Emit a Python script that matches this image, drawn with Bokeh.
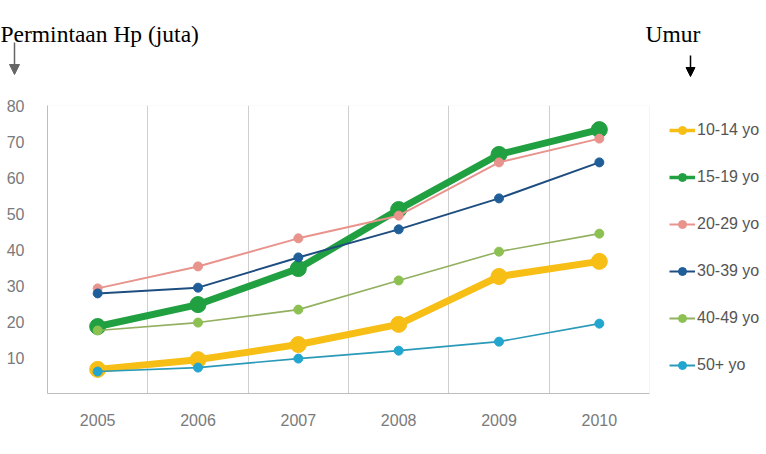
import numpy as np
from bokeh.plotting import figure
from bokeh.layouts import column
from bokeh.models import (FixedTicker, Legend, LegendItem, Label, Arrow, NormalHead, Range1d, BoxAnnotation)
from bokeh.embed import file_html
from bokeh.resources import INLINE

years = ["2005", "2006", "2007", "2008", "2009", "2010"]
groups = ["10-14 yo", "15-19 yo", "20-29 yo", "30-39 yo", "40-49 yo", "50+ yo"]
s_10_14 = [6.7, 9.4, 13.6, 19.2, 32.5, 36.7]
s_15_19 = [18.6, 24.7, 34.7, 51.1, 66.4, 73.3]
s_20_29 = [29.2, 35.3, 43.1, 49.4, 64.2, 70.8]
s_30_39 = [27.8, 29.4, 37.8, 45.6, 54.2, 64.2]
s_40_49 = [17.5, 19.7, 23.3, 31.4, 39.4, 44.4]
s_50p = [6.1, 7.2, 9.7, 11.9, 14.4, 19.4]
y_ticks = [10, 20, 30, 40, 50, 60, 70, 80]

series = [s_10_14, s_15_19, s_20_29, s_30_39, s_40_49, s_50p]
colors = ["#F7BE16", "#20A040", "#E8938C", "#1F5E98", "#8CC152", "#22A6CF"]
line_colors = ["#F7BE16", "#20A040", "#E8938C", "#1E4E80", "#93B060", "#2A9AB8"]
widths = [7, 7, 2, 2, 1.6, 1.6]
msizes = [16, 16, 9, 9, 9, 9]
leg_widths = [3.5, 3.5, 2, 2, 2, 2]
leg_msizes = [11, 11, 8, 8, 8, 8]

W = 766
HEAD_H = 90
MAIN_H = 364

# ---- header with the two captions and arrows ----
head = figure(width=W, height=HEAD_H, output_backend="svg", toolbar_location=None,
              x_range=Range1d(0, W), y_range=Range1d(HEAD_H, 0),
              x_axis_location=None, y_axis_location=None,
              min_border_left=0, min_border_right=0, min_border_top=0, min_border_bottom=0)
head.frame_align = False
head.grid.visible = False
head.outline_line_color = None
head.add_layout(Label(x=0, y=33, text="Permintaan Hp (juta)", text_font="Liberation Serif",
                      text_font_size="23.5px", text_color="black", text_baseline="alphabetic"))
head.add_layout(Label(x=645, y=33, text="Umur", text_font="Liberation Serif",
                      text_font_size="23.5px", text_color="black", text_baseline="alphabetic"))
head.add_layout(Arrow(x_start=14, y_start=42, x_end=14, y_end=74, line_color="#666666", line_width=1.5,
                      end=NormalHead(size=10, fill_color="#666666", line_color="#666666")))
head.add_layout(Arrow(x_start=690, y_start=55, x_end=690, y_end=76, line_color="black", line_width=1.5,
                      end=NormalHead(size=9, fill_color="black", line_color="black")))

# ---- main chart ----
n = len(years)
p = figure(width=W, height=MAIN_H, output_backend="svg", toolbar_location=None,
           x_range=Range1d(0, n * 719 / 602), y_range=Range1d(0, 80),
           min_border_left=47, min_border_right=0, min_border_top=15, min_border_bottom=61)
p.frame_align = False

xs = np.arange(n) + 0.5
items = []
for name, vals, c, lc, w, ms, lw, lms in zip(groups, series, colors, line_colors, widths, msizes,
                                              leg_widths, leg_msizes):
    p.line(xs, vals, line_color=lc, line_width=w, line_join="round")
    p.scatter(xs, vals, size=ms, fill_color=c, line_color=c)
    # hidden copies, styled like the reference legend keys
    g1 = p.line(xs, vals, line_color=lc, line_width=lw, visible=False)
    g2 = p.scatter(xs, vals, size=lms, fill_color=c, line_color=c, visible=False)
    items.append(LegendItem(label=name, renderers=[g1, g2]))

p.xaxis.ticker = FixedTicker(ticks=list(xs))
p.xaxis.major_label_overrides = {float(x): y for x, y in zip(xs, years)}
p.xaxis.bounds = (0, n)
p.yaxis.ticker = FixedTicker(ticks=y_ticks)
p.yaxis.bounds = (0, 80)
for ax in (p.xaxis[0], p.yaxis[0]):
    ax.major_tick_line_color = None
    ax.minor_tick_line_color = None
    ax.axis_line_color = "#b8b8b8"
    ax.major_label_text_color = "#7a7a7a"
    ax.major_label_text_font = "Liberation Sans"
p.xaxis.major_label_text_font_size = "16px"
p.yaxis.major_label_text_font_size = "16px"
p.xaxis.major_label_standoff = 14
p.yaxis.major_label_standoff = 17

p.xgrid.ticker = FixedTicker(ticks=list(range(1, n)))
p.xgrid.bounds = (0, 80)
p.xgrid.grid_line_color = "#cfcfcf"
p.ygrid.grid_line_color = None
p.outline_line_color = None
p.background_fill_color = "white"
p.border_fill_color = "white"
p.add_layout(BoxAnnotation(left=0, right=n, bottom=0, top=80, fill_alpha=0,
                           line_color="#dcdcdc", line_width=1))

legend = Legend(items=items, location=(622, 18), orientation="vertical",
                glyph_width=26, glyph_height=20, label_height=20, spacing=27,
                padding=0, margin=0, label_standoff=2, border_line_color=None,
                background_fill_alpha=0, inactive_fill_alpha=0, label_text_font="Liberation Sans",
                label_text_font_size="16px", label_text_color="#555555")
p.add_layout(legend, "center")

layout = column(head, p, spacing=0)
open("out.html", "w").write(file_html(layout, INLINE))
